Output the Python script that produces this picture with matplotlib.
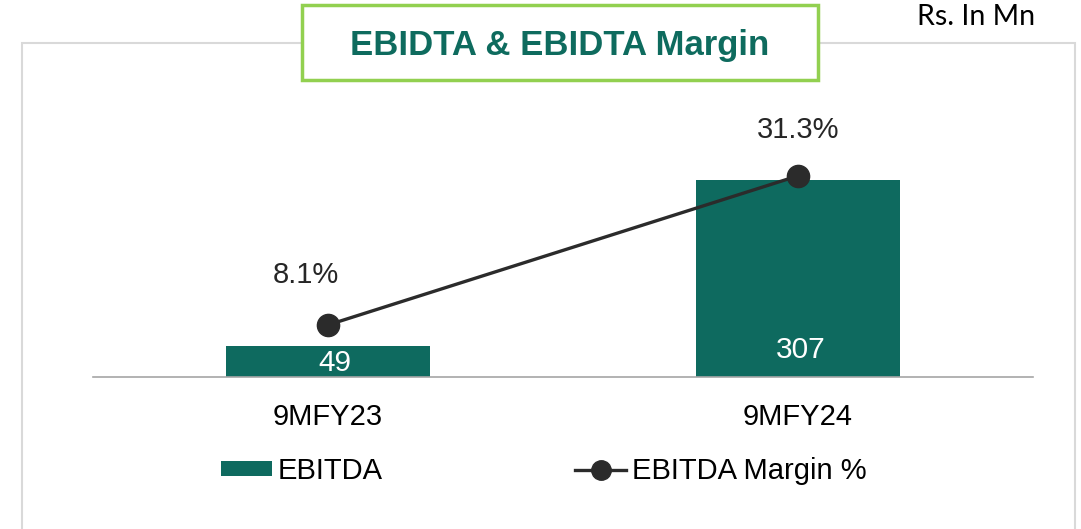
import matplotlib
matplotlib.use("Agg")
import matplotlib.pyplot as plt
from matplotlib.patches import Rectangle, Patch
from matplotlib.lines import Line2D

plt.rcParams['font.family'] = ['Liberation Sans', 'DejaVu Sans']

categories = ["9MFY23", "9MFY24"]
ebitda = [49, 307]
margin = [8.1, 31.3]
margin_labels = ["8.1%", "31.3%"]
title = "EBIDTA & EBIDTA Margin"
unit_note = "Rs. In Mn"

W, H = 1081, 529
fig = plt.figure(figsize=(W / 100, H / 100), dpi=100)

def fx(x):
    return x / W

def fy(y):
    return 1 - y / H

bar_color = "#0E6A5F"
line_color = "#2B2B2B"

# outer grey frame
fig.patches.append(Rectangle((fx(22), fy(545)), fx(1075) - fx(22), fy(43) - fy(545),
                             transform=fig.transFigure, facecolor="none",
                             edgecolor="#D9D9D9", lw=1.5, zorder=0))

ax = fig.add_axes([fx(93), fy(377), fx(1033) - fx(93), fy(100) - fy(377)])
ax2 = ax.twinx()
x = list(range(len(categories)))

ax.bar(x, ebitda, width=0.435, color=bar_color, zorder=2)
ax.set_xlim(-0.5, 1.5)
ax.set_ylim(0, 432)
ax2.set_ylim(0, 43.1)

ax2.plot(x, margin, color=line_color, lw=2.4, marker="o", markersize=16,
         zorder=3)

for a in (ax, ax2):
    for s in a.spines.values():
        s.set_visible(False)
    a.set_yticks([])
ax.spines['bottom'].set_visible(True)
ax.spines['bottom'].set_color("#A6A6A6")
ax.spines['bottom'].set_linewidth(1.2)

ax.set_xticks(x)
ax.set_xticklabels(categories, fontsize=21, color="#000000")
ax.tick_params(axis='x', length=0, pad=19)

# bar value labels (inside base)
bar_offsets = [(5, 10), (2, 19.5)]
for xi, v, off in zip(x, ebitda, bar_offsets):
    ax.annotate(str(v), (xi, 0), xytext=off, textcoords="offset points",
                ha="center", va="center", color="white", fontsize=21.5, zorder=4)

# margin labels
lab_offsets = [(-16, 36), (0, 33)]
for xi, m, lab, off in zip(x, margin, margin_labels, lab_offsets):
    ax2.annotate(lab, (xi, m), xytext=off, textcoords="offset points",
                 ha="center", va="center", color="#262626", fontsize=21)

# title box
fig.patches.append(Rectangle((fx(302), fy(80)), fx(818) - fx(302), fy(5) - fy(80),
                             transform=fig.transFigure, facecolor="white",
                             edgecolor="#92D050", lw=2.5, zorder=5))
fig.text(fx(560), fy(45), title, ha="center", va="center", fontsize=25,
         fontweight="bold", color="#0E6B5E", zorder=6)
fig.text(fx(1035), fy(17), unit_note, ha="right", va="center", fontsize=20.5,
         family=["Lato", "DejaVu Sans"], color="#000000")

handles = [Patch(facecolor=bar_color, edgecolor="none"),
           Line2D([0], [0], color=line_color, lw=2.4, marker="o", markersize=14)]
fig.legend(handles, ["EBITDA", "EBITDA Margin %"], loc="center",
           bbox_to_anchor=(fx(544), fy(471)), ncol=2, frameon=False,
           fontsize=21, handlelength=1.75, handleheight=0.4, handletextpad=0.2,
           columnspacing=6.6)

fig.savefig("out.png", dpi=100, facecolor="white")
